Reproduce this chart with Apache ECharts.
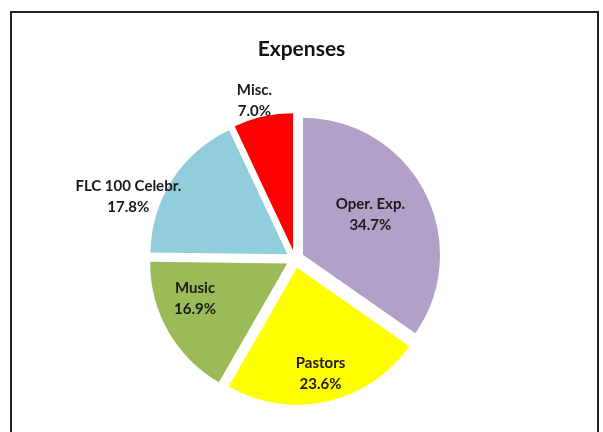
<!DOCTYPE html>
<html>
<head>
<meta charset="utf-8">
<script src="https://cdn.jsdelivr.net/npm/echarts@6/dist/echarts.min.js"></script>
<style>
  html, body { margin: 0; padding: 0; background: #fff; }
  #main { width: 603px; height: 432px; }
</style>
</head>
<body>
<div id="main"></div>
<script>
// chart values
var categories = ['Oper. Exp.', 'Pastors', 'Music', 'FLC 100 Celebr.', 'Misc.'];
var shares = [34.7, 23.6, 16.9, 17.8, 7.0];
var sliceColors = ['#B1A0C7', '#FFFF00', '#9BBB59', '#92CDDC', '#FF0000'];

// label nudges (Excel puts labels away from the ECharts inside spot)
var labelNudge = [[4, -7], [8, 36], [-30, 0], [-99, -19], [-23, -80]];

var myChart = echarts.init(document.getElementById('main'));

myChart.setOption({
  animation: false,
  title: {
    text: 'Expenses',
    left: 'center',
    top: 34,
    textStyle: { fontFamily: 'Lato', fontWeight: 'bold', fontSize: 21, color: '#111' }
  },
  graphic: [
    {
      type: 'rect',
      shape: { x: 11, y: 12, width: 587, height: 440 },
      style: { fill: 'none', stroke: '#222', lineWidth: 2 }
    }
  ],
  series: [
    {
      type: 'pie',
      center: [295, 259],
      radius: [0, 137],
      startAngle: 90,
      clockwise: true,
      selectedMode: 'multiple',
      selectedOffset: 9,
      emphasis: { disabled: true },
      label: {
        show: true,
        position: 'inside',
        formatter: function (p) { return p.name + '\n' + p.value.toFixed(1) + '%'; },
        fontFamily: 'Lato',
        fontWeight: 'bold',
        fontSize: 15,
        lineHeight: 21,
        color: '#1a1a1a',
        align: 'center'
      },
      labelLine: { show: false },
      labelLayout: function (params) {
        var n = labelNudge[params.dataIndex];
        return { dx: n[0], dy: n[1] };
      },
      data: categories.map(function (name, i) {
        return {
          name: name,
          value: shares[i],
          selected: true,
          itemStyle: { color: sliceColors[i] }
        };
      })
    }
  ]
});
</script>
</body>
</html>
